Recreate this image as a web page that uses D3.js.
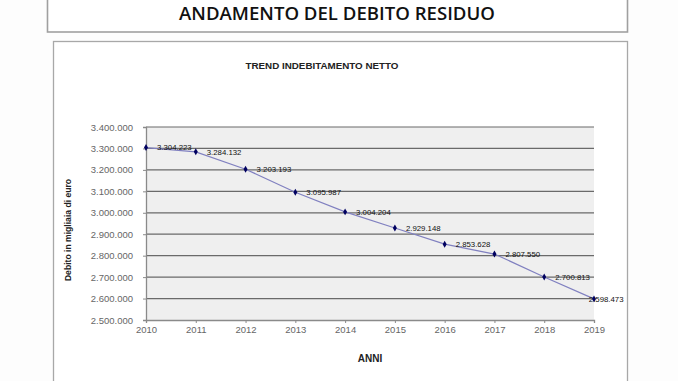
<!DOCTYPE html>
<html>
<head>
<meta charset="utf-8">
<script src="https://cdn.jsdelivr.net/npm/d3@7"></script>
<style>
  body { margin: 0; background: #fdfdfd; }
  svg { display: block; }
</style>
</head>
<body>
<svg id="chart" width="678" height="381"></svg>
<script>
var anni = [2010, 2011, 2012, 2013, 2014, 2015, 2016, 2017, 2018, 2019];
var debito = [3304223, 3284132, 3203193, 3095987, 3004204, 2929148, 2853628, 2807550, 2700813, 2598473];
var yTicks = [2500000, 2600000, 2700000, 2800000, 2900000, 3000000, 3100000, 3200000, 3300000, 3400000];

var fmt = function(v) { return d3.format(",")(v).replace(/,/g, "."); };

var svg = d3.select("#chart");

// riquadro titolo
svg.append("rect")
	.attr("x", 47.5).attr("y", -10.5)
	.attr("width", 580).attr("height", 42.5)
	.attr("fill", "#fff").attr("stroke", "#a0a0a0").attr("stroke-width", 1.6);

svg.append("text")
	.attr("x", 337).attr("y", 19.5)
	.attr("text-anchor", "middle")
	.style("font-family", "Open Sans, sans-serif")
	.style("font-weight", "600")
	.style("font-size", "18.6px")
	.attr("fill", "#111")
	.text("ANDAMENTO DEL DEBITO RESIDUO");

// riquadro grafico
var boxRight = 627.5;
svg.append("rect")
	.attr("x", 53.5).attr("y", 41.5)
	.attr("width", boxRight - 53.5).attr("height", 360)
	.attr("fill", "#fff").attr("stroke", "#a8a8a8").attr("stroke-width", 1.3);

var margin = {top: 127, left: 146},
	width = 448,
	height = 193;

var x = d3.scaleLinear()
	.domain([anni[0], anni[anni.length - 1]])
	.range([0, width]);

var y = d3.scaleLinear()
	.domain([2500000, 3400000])
	.range([height, 0]);

var g = svg.append("g")
	.attr("transform", "translate(" + margin.left + "," + margin.top + ")");

g.append("rect")
	.attr("width", width).attr("height", height)
	.attr("fill", "#efefef");

// griglia
g.append("g")
	.selectAll("line")
	.data(yTicks.slice(1))
	.enter().append("line")
	.attr("x1", 0).attr("x2", width)
	.attr("y1", function(d) { return y(d); })
	.attr("y2", function(d) { return y(d); })
	.attr("stroke", "#6a6a6a").attr("stroke-width", 1.2);

var yAxis = g.append("g")
	.call(d3.axisLeft(y).tickValues(yTicks).tickFormat(fmt).tickSize(3).tickPadding(10));

var xAxis = g.append("g")
	.attr("transform", "translate(0," + height + ")")
	.call(d3.axisBottom(x).tickValues(anni).tickFormat(d3.format("d")).tickSize(3).tickPadding(3));

[yAxis, xAxis].forEach(function(a) {
	a.select(".domain").attr("stroke", "#8a8a8a").attr("stroke-width", 1.3);
	a.selectAll(".tick line").attr("stroke", "#8a8a8a");
	a.selectAll("text")
		.style("font-family", "Liberation Sans, Arial, sans-serif")
		.style("font-size", "9.5px")
		.attr("fill", "#666");
});

// linea
var line = d3.line()
	.x(function(d, i) { return x(anni[i]); })
	.y(function(d) { return y(d); });

g.append("path")
	.datum(debito)
	.attr("fill", "none")
	.attr("stroke", "#8080c0")
	.attr("stroke-width", 1.2)
	.attr("d", line);

g.selectAll(".punto")
	.data(debito)
	.enter().append("path")
	.attr("class", "punto")
	.attr("d", d3.symbol().type(d3.symbolDiamond).size(14))
	.attr("transform", function(d, i) { return "translate(" + x(anni[i]) + "," + y(d) + ")"; })
	.attr("fill", "#000060");

g.selectAll(".etichetta")
	.data(debito)
	.enter().append("text")
	.attr("class", "etichetta")
	.attr("y", function(d) { return y(d) + 2.7; })
	.style("font-family", "Liberation Sans, Arial, sans-serif")
	.style("font-size", "7.8px")
	.attr("fill", "#111")
	.text(fmt)
	.attr("x", function(d, i) {
		// come in Excel: l'etichetta resta dentro il riquadro
		var w = this.getComputedTextLength();
		return Math.min(x(anni[i]) + 11, boxRight - 4 - margin.left - w);
	});

// titoli
svg.append("text")
	.attr("x", 322).attr("y", 68.5)
	.attr("text-anchor", "middle")
	.style("font-family", "Liberation Sans, Arial, sans-serif")
	.style("font-weight", "bold")
	.style("font-size", "9.8px")
	.attr("fill", "#222")
	.text("TREND INDEBITAMENTO NETTO");

svg.append("text")
	.attr("transform", "translate(71,230) rotate(-90)")
	.attr("text-anchor", "middle")
	.style("font-family", "Liberation Sans, Arial, sans-serif")
	.style("font-weight", "bold")
	.style("font-size", "8.6px")
	.attr("fill", "#222")
	.text("Debito in migliaia di euro");

svg.append("text")
	.attr("x", 370).attr("y", 362)
	.attr("text-anchor", "middle")
	.style("font-family", "Liberation Sans, Arial, sans-serif")
	.style("font-weight", "bold")
	.style("font-size", "10px")
	.attr("fill", "#222")
	.text("ANNI");
</script>
</body>
</html>
